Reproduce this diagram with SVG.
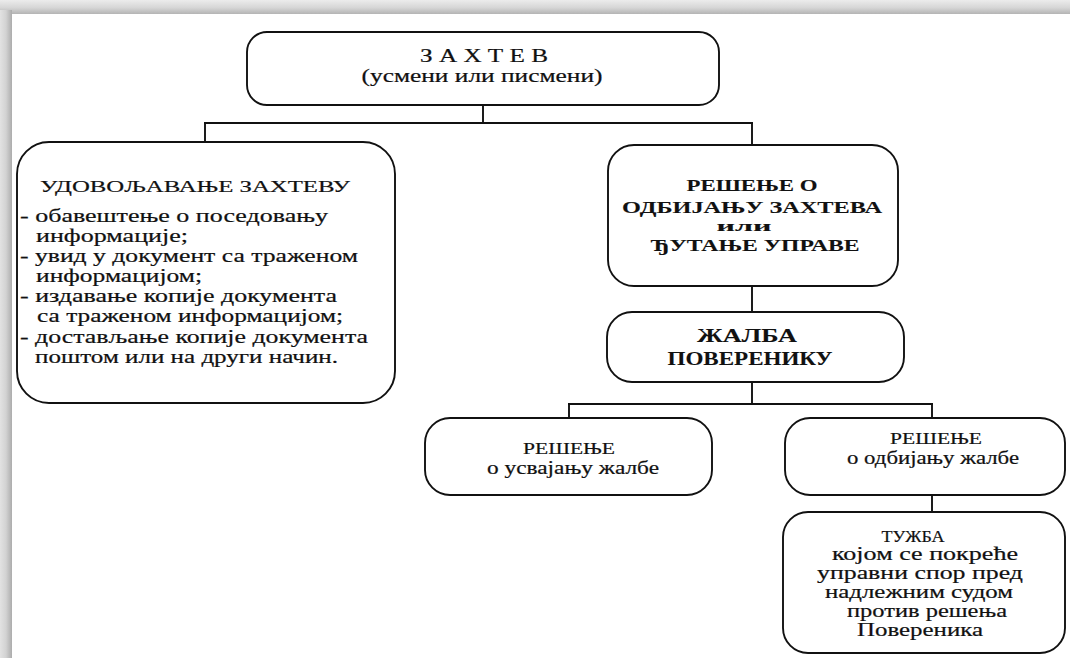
<svg xmlns="http://www.w3.org/2000/svg" width="1070" height="658" viewBox="0 0 1070 658">
<defs>
<linearGradient id="gTop" x1="0" y1="0" x2="0" y2="1">
<stop offset="0" stop-color="#ececec"/>
<stop offset="0.55" stop-color="#d6d6d6"/>
<stop offset="1" stop-color="#b4b4b4"/>
</linearGradient>
<linearGradient id="gLeft" x1="0" y1="0" x2="1" y2="0">
<stop offset="0" stop-color="#e2e2e2"/>
<stop offset="0.5" stop-color="#d2d2d2"/>
<stop offset="1" stop-color="#acacac"/>
</linearGradient>
<style>
.box{fill:#fff;stroke:#111;stroke-width:1.9}
.con line{stroke:#111;stroke-width:1.9}
text{font-family:"Liberation Serif","Times New Roman",serif;fill:#111;text-anchor:middle;stroke:#111;stroke-width:0.2}
.b{font-weight:bold;stroke-width:0.1}
.l{text-anchor:start}
</style>
</defs>
<rect x="0" y="0" width="1070" height="658" fill="#fff"/>
<rect x="0" y="0" width="1070" height="14" fill="url(#gTop)"/>
<rect x="0" y="10" width="12" height="648" fill="url(#gLeft)"/>
<g id="connectors" class="con">
<line x1="483" y1="105" x2="483" y2="123"/>
<line x1="204" y1="123" x2="753" y2="123"/>
<line x1="205" y1="123" x2="205" y2="142"/>
<line x1="752" y1="123" x2="752" y2="145"/>
<line x1="752" y1="286" x2="752" y2="312"/>
<line x1="752" y1="382" x2="752" y2="404"/>
<line x1="568" y1="404" x2="933" y2="404"/>
<line x1="569" y1="404" x2="569" y2="418"/>
<line x1="932" y1="404" x2="932" y2="418"/>
<line x1="932" y1="495" x2="932" y2="512"/>
</g>
<g id="zahtev">
<rect class="box" x="247" y="32" width="472" height="73" rx="20"/>
<text x="484" y="62" font-size="18" textLength="128" lengthAdjust="spacingAndGlyphs">З А Х Т Е В</text>
<text x="482" y="82" font-size="18" textLength="241" lengthAdjust="spacingAndGlyphs">(усмени или писмени)</text>
</g>
<g id="udovoljavanje">
<rect class="box" x="17" y="142" width="378" height="261" rx="32"/>
<text x="195" y="192" font-size="17" textLength="310" lengthAdjust="spacingAndGlyphs">УДОВОЉАВАЊЕ ЗАХТЕВУ</text>
<text class="l" x="20" y="222" font-size="18" textLength="308" lengthAdjust="spacingAndGlyphs">- обавештење о поседовању</text>
<text class="l" x="36" y="242" font-size="18" textLength="152" lengthAdjust="spacingAndGlyphs">информације;</text>
<text class="l" x="20" y="262" font-size="18" textLength="338" lengthAdjust="spacingAndGlyphs">- увид у документ са траженом</text>
<text class="l" x="36" y="282" font-size="18" textLength="166" lengthAdjust="spacingAndGlyphs">информацијом;</text>
<text class="l" x="20" y="302" font-size="18" textLength="317" lengthAdjust="spacingAndGlyphs">- издавање копије документа</text>
<text class="l" x="37" y="322" font-size="18" textLength="306" lengthAdjust="spacingAndGlyphs">са траженом информацијом;</text>
<text class="l" x="20" y="343" font-size="18" textLength="348" lengthAdjust="spacingAndGlyphs">- достављање копије документа</text>
<text class="l" x="35" y="363" font-size="18" textLength="303" lengthAdjust="spacingAndGlyphs">поштом или на други начин.</text>
</g>
<g id="resenje-odbijanje">
<rect class="box" x="608" y="145" width="290" height="141" rx="26"/>
<text class="b" x="752" y="191" font-size="17" textLength="131" lengthAdjust="spacingAndGlyphs">РЕШЕЊЕ О</text>
<text class="b" x="752" y="213" font-size="17" textLength="260" lengthAdjust="spacingAndGlyphs">ОДБИЈАЊУ ЗАХТЕВА</text>
<text class="b" x="744" y="231" font-size="15" textLength="55" lengthAdjust="spacingAndGlyphs">или</text>
<text class="b" x="755" y="251" font-size="17" textLength="209" lengthAdjust="spacingAndGlyphs">ЂУТАЊЕ УПРАВЕ</text>
</g>
<g id="zalba">
<rect class="box" x="607" y="312" width="297" height="70" rx="25"/>
<text class="b" x="747" y="342" font-size="18" textLength="100" lengthAdjust="spacingAndGlyphs">ЖАЛБА</text>
<text class="b" x="750" y="365" font-size="18" textLength="165" lengthAdjust="spacingAndGlyphs">ПОВЕРЕНИКУ</text>
</g>
<g id="usvajanje">
<rect class="box" x="425" y="418" width="287" height="77" rx="25"/>
<text x="569" y="454" font-size="17" textLength="92" lengthAdjust="spacingAndGlyphs">РЕШЕЊЕ</text>
<text x="573" y="474" font-size="18" textLength="172" lengthAdjust="spacingAndGlyphs">о усвајању жалбе</text>
</g>
<g id="odbijanje-zalbe">
<rect class="box" x="785" y="418" width="280" height="77" rx="25"/>
<text x="936" y="444" font-size="17" textLength="92" lengthAdjust="spacingAndGlyphs">РЕШЕЊЕ</text>
<text x="933" y="464" font-size="18" textLength="172" lengthAdjust="spacingAndGlyphs">о одбијању жалбе</text>
</g>
<g id="tuzba">
<rect class="box" x="783" y="512" width="282" height="141" rx="25"/>
<text x="913" y="542" font-size="17" textLength="63" lengthAdjust="spacingAndGlyphs">ТУЖБА</text>
<text x="925" y="560" font-size="18" textLength="186" lengthAdjust="spacingAndGlyphs">којом се покреће</text>
<text x="920" y="579" font-size="18" textLength="206" lengthAdjust="spacingAndGlyphs">управни спор пред</text>
<text x="919" y="598" font-size="18" textLength="188" lengthAdjust="spacingAndGlyphs">надлежним судом</text>
<text x="927" y="617" font-size="18" textLength="160" lengthAdjust="spacingAndGlyphs">против решења</text>
<text x="920" y="636" font-size="18" textLength="126" lengthAdjust="spacingAndGlyphs">Повереника</text>
</g>
</svg>
